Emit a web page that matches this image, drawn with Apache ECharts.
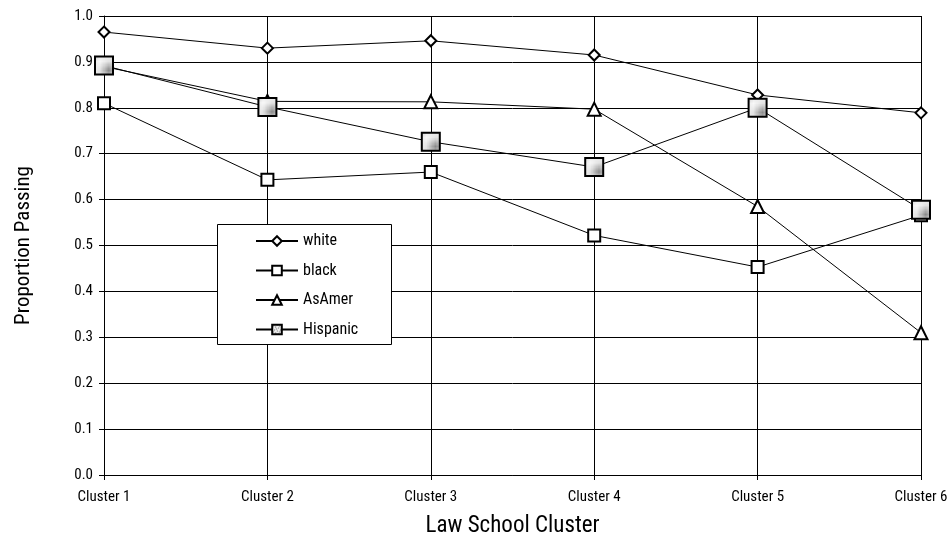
<!DOCTYPE html>
<html><head><meta charset="utf-8">
<script src="https://cdn.jsdelivr.net/npm/echarts@6/dist/echarts.min.js"></script>
<style>html,body{margin:0;padding:0;background:#fff}#c{width:951px;height:552px}</style>
</head><body><div id="c"></div>
<script>
var categories = ['Cluster 1','Cluster 2','Cluster 3','Cluster 4','Cluster 5','Cluster 6'];
var white    = [0.965, 0.930, 0.946, 0.915, 0.828, 0.789];
var black    = [0.810, 0.643, 0.660, 0.522, 0.453, 0.566];
var asAmer   = [0.890, 0.814, 0.813, 0.797, 0.585, 0.310];
var hispanic = [0.892, 0.802, 0.726, 0.671, 0.800, 0.578];
var yTicks = [0,0.1,0.2,0.3,0.4,0.5,0.6,0.7,0.8,0.9,1.0];

var FONT = "'Liberation Sans Narrow','Arial Narrow','Roboto Condensed','Liberation Sans',sans-serif";

// speckled gray fill for Hispanic marker
var pc = document.createElement('canvas'); pc.width = 6; pc.height = 6;
var px = pc.getContext('2d');
px.fillStyle = '#e2e2e2'; px.fillRect(0,0,6,6);
px.fillStyle = '#8a8a8a';
[[0,0],[3,1],[1,3],[4,4],[5,2],[2,5]].forEach(function(p){ px.fillRect(p[0],p[1],1,1); });
px.fillStyle = '#f8f8f8';
[[1,1],[4,0],[0,4],[3,3],[5,5]].forEach(function(p){ px.fillRect(p[0],p[1],1,1); });
var hisFill = {image: pc, repeat: 'repeat'};

function mk(name, data, symbol, size, fill, bw){
  return {
    name: name, type: 'line', data: data, symbol: symbol, symbolSize: size,
    showAllSymbol: true,
    lineStyle: {color: '#000', width: 1},
    itemStyle: {color: fill, borderColor: '#000', borderWidth: bw},
    emphasis: {disabled: true}, animation: false
  };
}

var chart = echarts.init(document.getElementById('c'), null, {renderer: 'canvas'});
chart.setOption({
  backgroundColor: '#fff',
  animation: false,
  textStyle: {fontFamily: FONT},
  grid: {left: 104, right: 30, top: 16, bottom: 77, containLabel: false},
  xAxis: {
    type: 'category', data: categories, boundaryGap: false,
    name: 'Law School Cluster', nameLocation: 'middle', nameGap: 40,
    nameTextStyle: {fontFamily: FONT, fontSize: 23, color: '#000'},
    axisLine: {lineStyle: {color: '#000', width: 1}},
    axisTick: {show: true, length: 5, lineStyle: {color: '#000'}},
    axisLabel: {fontFamily: FONT, fontSize: 15, color: '#000', margin: 15},
    splitLine: {show: true, lineStyle: {color: '#000', width: 1}}
  },
  yAxis: {
    type: 'value', min: 0, max: 1, interval: 0.1,
    name: 'Proportion Passing', nameLocation: 'middle', nameGap: 70,
    nameTextStyle: {fontFamily: FONT, fontSize: 21, color: '#000'},
    axisLine: {show: true, lineStyle: {color: '#000', width: 1}},
    axisTick: {show: true, length: 5, lineStyle: {color: '#000'}},
    axisLabel: {fontFamily: FONT, fontSize: 15, color: '#000', margin: 11,
      formatter: function(v){ return v.toFixed(1); }},
    splitLine: {show: true, lineStyle: {color: '#000', width: 1}}
  },
  graphic: [{
    type: 'rect', z: 3, silent: true,
    shape: {x: 217.5, y: 224.5, width: 174, height: 120},
    style: {fill: '#fff', stroke: '#000', lineWidth: 1}
  }],
  legend: {
    orient: 'vertical', left: 255, top: 233, z: 10,
    itemWidth: 42, itemHeight: 12, itemGap: 13.5,
    padding: 0,
    textStyle: {fontFamily: FONT, fontSize: 16, color: '#000', padding: [0,0,0,0]},
    data: ['white','black','AsAmer','Hispanic']
  },
  series: [
    mk('white', white, 'diamond', 11, '#fff', 2),
    mk('black', black, 'rect', 12, '#fff', 2),
    mk('AsAmer', asAmer, 'triangle', 13, '#fff', 2),
    mk('Hispanic', hispanic, 'rect', 18, hisFill, 2)
  ]
});
</script></body></html>
